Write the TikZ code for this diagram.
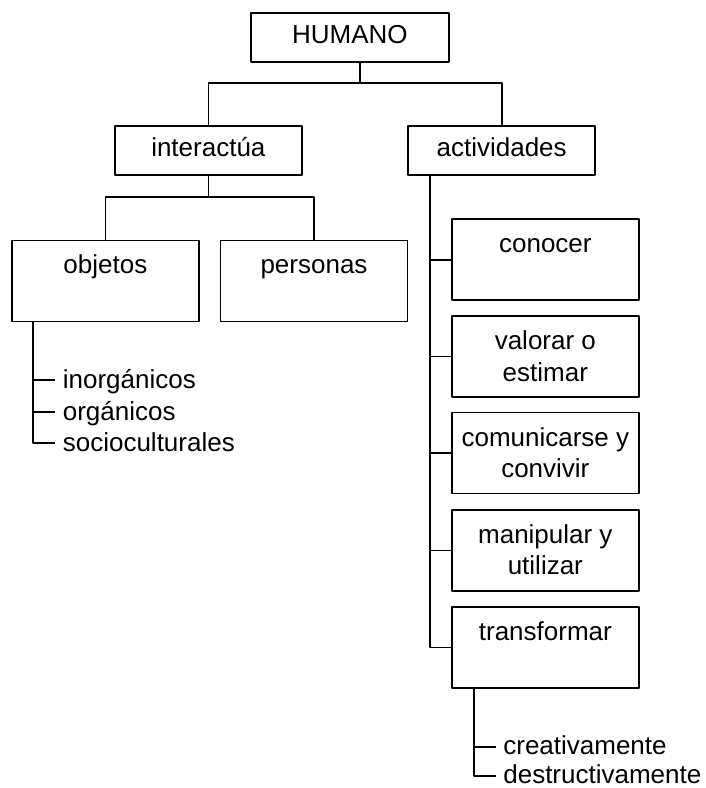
\documentclass[tikz,border=0pt]{standalone}
\usepackage{fontspec}
\setmainfont{Liberation Sans}
\newcommand{\bigtxt}[1]{\parbox[t][81pt][t]{187pt}{\centering\rule{0pt}{33.5pt}#1}}
\newcommand{\smalltxt}[2]{\parbox[t][49pt][t]{#1}{\centering\rule{0pt}{30.6pt}#2}}
\begin{document}
\begin{tikzpicture}[x=1pt,y=-1pt, line width=1.7pt, line join=round,
  every node/.style={font=\fontsize{26pt}{31.5pt}\selectfont},
  bigbox/.style={draw, inner sep=0pt, minimum width=187pt, minimum height=81pt},
  smallbox/.style={draw, inner sep=0pt, minimum height=49pt},
  listitem/.style={anchor=base west, inner sep=0pt}]
\useasboundingbox (0,0) rectangle (706,788);
% boxes
\node[smallbox] (hum) at (349.85,37.2) {\smalltxt{198.3pt}{HUMANO}};
\node[smallbox] (int) at (208.35,150.5) {\smalltxt{186.7pt}{interactúa}};
\node[smallbox] (act) at (501.65,150.5) {\smalltxt{186.7pt}{actividades}};
\node[bigbox] (obj) at (105.35,280.85) {\bigtxt{objetos}};
\node[bigbox] (per) at (314,280.85) {\bigtxt{personas}};
\node[bigbox] (con) at (545.35,259.65) {\bigtxt{conocer}};
\node[bigbox] (val) at (545.35,356.5) {\bigtxt{valorar o\\estimar}};
\node[bigbox] (com) at (545.35,453) {\bigtxt{comunicarse y\\convivir}};
\node[bigbox] (man) at (545.35,550.35) {\bigtxt{manipular y\\utilizar}};
\node[bigbox] (tra) at (545.35,647.5) {\bigtxt{transformar}};
% list items
\node[listitem] (ino) at (62,388.3) {inorgánicos};
\node[listitem] (org) at (62,420) {orgánicos};
\node[listitem] (soc) at (62,451.7) {socioculturales};
\node[listitem] (cre) at (502.5,754.5) {creativamente};
\node[listitem] (des) at (502.5,783.8) {destructivamente};
% junctions
\coordinate (j1) at (360,83.3);
\coordinate (j2) at (208.35,196.7);
\coordinate (t1) at (55,380);
\coordinate (t2) at (55,411.7);
\coordinate (t3) at (55,443);
\coordinate (u1) at (495.5,747);
\coordinate (u2) at (495.5,776);
% connectors
\draw (hum.south -| j1) -- (j1);
\draw (int.north) |- (j1) -| (act.north);
\draw (int.south) -- (j2);
\draw (obj.north) |- (j2) -| (per.north);
\draw (obj.south -| 33.3,0) |- (t3);
\draw (t1 -| 33.3,0) -- (t1);
\draw (t2 -| 33.3,0) -- (t2);
\draw (act.south -| 430,0) |- (tra.west);
\foreach \n in {con,val,com,man} \draw (\n.west -| 430,0) -- (\n.west);
\draw (tra.south -| 474,0) |- (u2);
\draw (u1 -| 474,0) -- (u1);
\end{tikzpicture}
\end{document}
